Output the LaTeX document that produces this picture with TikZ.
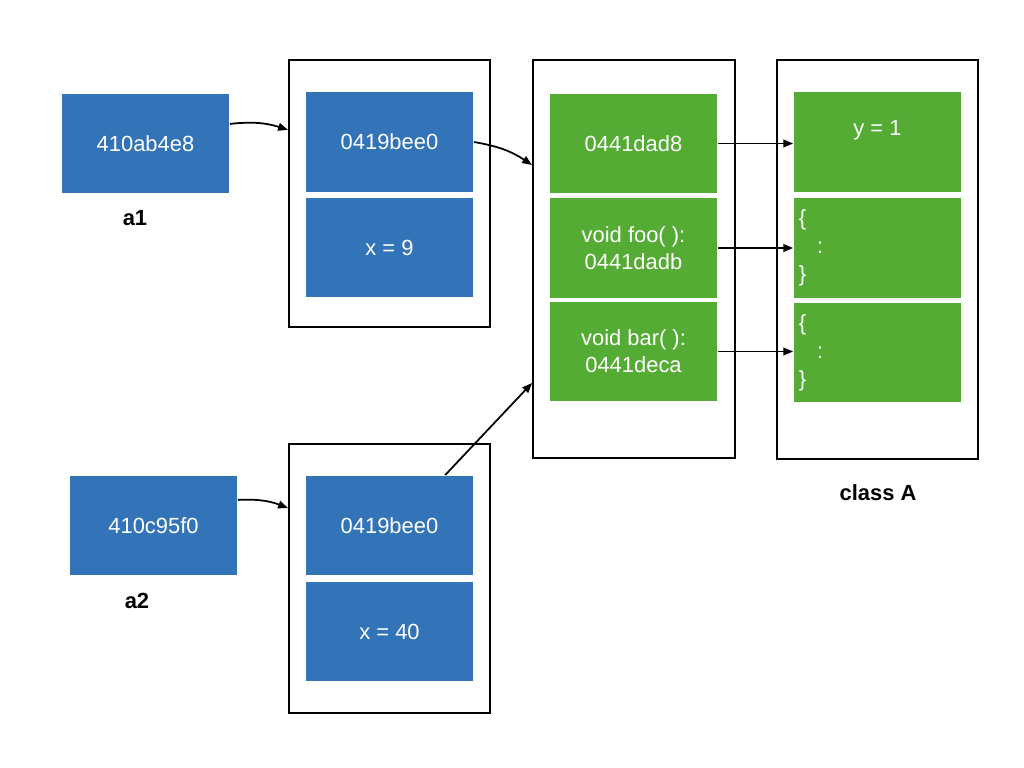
\documentclass[tikz,border=0pt]{standalone}
\usepackage{fontspec}
\setmainfont{Liberation Sans}
\usetikzlibrary{arrows.meta}
\definecolor{PtrBlue}{HTML}{3373B7}
\definecolor{CodeGreen}{HTML}{55AC34}

\begin{document}
\begin{tikzpicture}[x=0.025cm, y=-0.025cm,
        cell/.style={rectangle, inner sep=0pt, minimum width=4.175cm, minimum height=2.475cm,
          text=white, font=\fontsize{15.6}{19}\selectfont, align=center},
        frame/.style={rectangle, draw, line width=1.4pt, minimum width=5.025cm},
        txt/.style={inner sep=0pt, text=white, font=\fontsize{15.6}{19}\selectfont},
        tag/.style={inner sep=0pt, font=\fontsize{15.6}{19}\selectfont\bfseries},
        ->, >={Triangle[length=7pt,width=5.5pt]}, line width=1.25pt]
        \useasboundingbox (0,0) rectangle (1024,768);
        % frames
        \node[frame, minimum height=6.675cm] (f1) at (389.5,193.5) {};
        \node[frame, minimum height=9.95cm, minimum width=5.05cm] (f2) at (634,259) {};
        \node[frame, minimum height=9.975cm] (f3) at (877.5,259.5) {};
        \node[frame, minimum height=6.725cm] (f4) at (389.5,578.5) {};
        % pointers
        \node[cell, fill=PtrBlue] (a1) at (145.5,143.5) {410ab4e8};
        \node[cell, fill=PtrBlue] (a2) at (153.5,525.5) {410c95f0};
        \node[tag] (a1t) at (135,218) {a1};
        \node[tag] (a2t) at (137,601) {a2};
        % objects
        \node[cell, fill=PtrBlue] (b1) at (389.5,142) {0419bee0};
        \node[cell, fill=PtrBlue] (b2) at (389.5,247.5) {x = 9};
        \node[cell, fill=PtrBlue] (b3) at (389.5,525.5) {0419bee0};
        \node[cell, fill=PtrBlue] (b4) at (389.5,631.5) {x = 40};
        % vtable
        \node[cell, fill=CodeGreen] (g1) at (633.5,143.5) {0441dad8};
        \node[cell, fill=CodeGreen] (g2) at (633.5,248) {void foo( ):\\0441dadb};
        \node[cell, fill=CodeGreen] (g3) at (633.5,351.5) {void bar( ):\\0441deca};
        % class A
        \node[cell, fill=CodeGreen] (c1) at (877.5,142) {};
        \node[txt] (c1t) at (877.5,130) {y = 1};
        \node[cell, fill=CodeGreen, align=left, text width=4.175cm-7pt, inner xsep=3.5pt,
          font=\fontsize{15.6}{20}\selectfont] (c2) at (877.5,248) {\{\\\hspace*{13pt}:\\\}};
        \node[cell, fill=CodeGreen, align=left, text width=4.175cm-7pt, inner xsep=3.5pt,
          font=\fontsize{15.6}{20}\selectfont] (c3) at (877.5,352.5) {\{\\\hspace*{13pt}:\\\}};
        \node[tag] (ct) at (878,493) {class A};
        % arrows
        \draw ([yshift=0.49cm]a1.east) to[bend left=12] ([yshift=1.59cm]f1.west);
        \draw (b1.east) to[bend left=12] ([yshift=2.35cm]f2.west);
        \draw ([yshift=0.64cm]a2.east) to[bend left=12] ([yshift=1.76cm]f4.west);
        \draw ([xshift=1.39cm]b3.north) -- ([yshift=-3.1cm]f2.west);
        \draw (g1.east) -- (c1.west |- g1.east);
        \draw (g2.east) -- (c2.west |- g2.east);
        \draw (g3.east) -- (c3.west |- g3.east);
    \end{tikzpicture}
\end{document}
